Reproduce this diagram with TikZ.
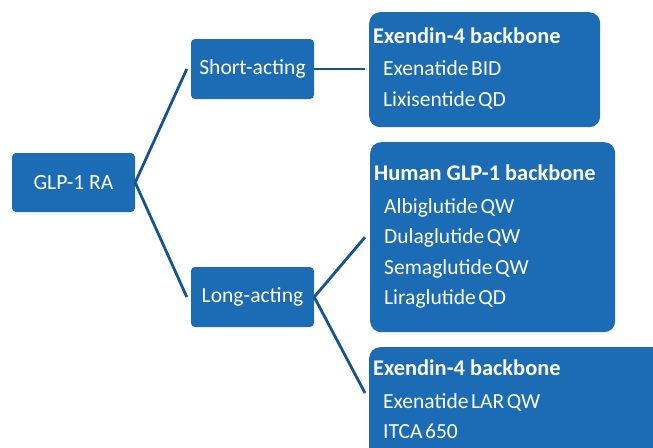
\documentclass[tikz,border=0pt]{standalone}
\usepackage{fontspec}
\setmainfont{Carlito}
\definecolor{boxblue}{RGB}{27,108,180}
\definecolor{linkblue}{RGB}{22,84,145}
\newcommand\tightwords{\spaceskip=0.12em\relax}
\begin{document}
\begin{tikzpicture}[x=1pt,y=-1pt,
  smallbox/.style={fill=boxblue,rounded corners=4pt,text=white,inner sep=0pt,
    font=\fontsize{21.6}{25}\selectfont},
  bigbox/.style={fill=boxblue,rounded corners=11pt,inner sep=0pt,anchor=north west},
  headtxt/.style={text=white,anchor=base west,inner sep=0pt,font=\fontsize{22.4}{26}\selectfont\bfseries},
  itemtxt/.style={text=white,anchor=base west,inner sep=0pt,font=\fontsize{21.5}{25}\selectfont\tightwords},
  link/.style={draw=linkblue,line width=2.8pt}]
\clip (0,0) rectangle (653,447);
\fill[white] (0,0) rectangle (653,447);

% left boxes
\node[smallbox,minimum width=123pt,minimum height=59pt] (glp) at (73.5,182.5) {GLP-1 RA};
\node[smallbox,minimum width=123pt,minimum height=60pt] (short) at (252.5,69) {Short-acting};
\node[smallbox,minimum width=123pt,minimum height=60pt] (long) at (252.5,297) {Long-acting};

% right boxes
\node[bigbox,minimum width=231pt,minimum height=115pt] (exa) at (369,12) {};
\node[bigbox,minimum width=245pt,minimum height=190pt] (hum) at (370,142) {};
\node[bigbox,minimum width=300pt,minimum height=120pt] (exb) at (369,347) {};

% texts box 1
\node[headtxt] (exah) at (373,43) {Exendin-4 backbone};
\node[itemtxt] (exa1) at (383,75) {Exenatide BID};
\node[itemtxt] (exa2) at (383,106) {Lixisentide QD};
% texts box 2
\node[headtxt] (humh) at (374,180) {Human GLP-1 backbone};
\node[itemtxt] (hum1) at (384,213) {Albiglutide QW};
\node[itemtxt] (hum2) at (384,243) {Dulaglutide QW};
\node[itemtxt] (hum3) at (384,274) {Semaglutide QW};
\node[itemtxt] (hum4) at (384,304) {Liraglutide QD};
% texts box 3
\node[headtxt] (exbh) at (373,375) {Exendin-4 backbone};
\node[itemtxt] (exb1) at (383,408) {Exenatide LAR QW};
\node[itemtxt] (exb2) at (383,438) {ITCA 650};

% connectors
\coordinate (exbin) at (365,393);
\draw[link] (glp.east) -- ([xshift=-4pt]short.west);
\draw[link] (glp.east) -- ([xshift=-4pt]long.west);
\draw[link] (short.east) -- ([xshift=-4pt]exa.west |- short.east);
\draw[link] (long.east) -- ([xshift=-5pt]hum.west);
\draw[link] (long.east) -- (exbin);
\end{tikzpicture}
\end{document}
